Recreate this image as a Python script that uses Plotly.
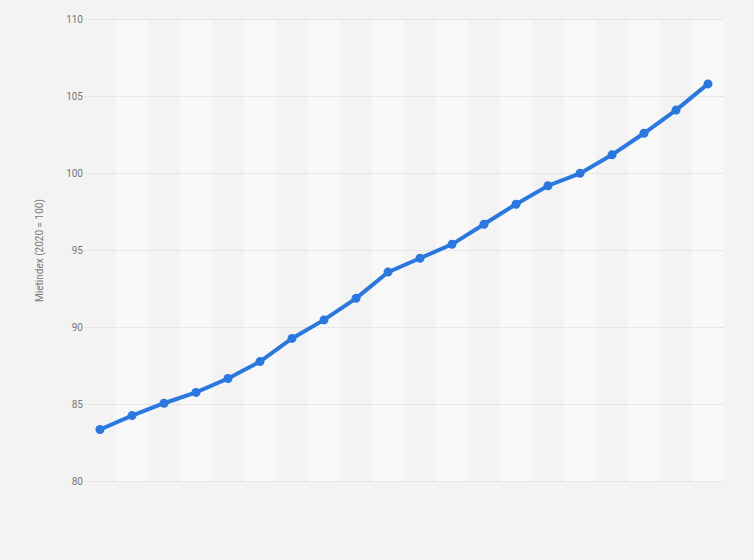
import plotly.graph_objects as go

years = [str(y) for y in range(2005, 2025)]
mietindex = [83.4, 84.3, 85.1, 85.8, 86.7, 87.8, 89.3, 90.5, 91.9, 93.6,
             94.5, 95.4, 96.7, 98.0, 99.2, 100.0, 101.2, 102.6, 104.1, 105.8]
y_ticks = [80, 85, 90, 95, 100, 105, 110]

fig = go.Figure()

shapes = []
for i in range(len(years)):
    shapes.append(dict(
        type="rect", xref="x", yref="y",
        x0=i - 0.5, x1=i + 0.5, y0=y_ticks[0], y1=y_ticks[-1],
        fillcolor="#f8f8f8" if i % 2 == 1 else "#f3f3f3",
        line=dict(width=0), layer="below",
    ))

fig.add_trace(go.Scatter(
    x=list(range(len(years))), y=mietindex,
    mode="lines+markers",
    line=dict(color="#2a78de", width=4),
    marker=dict(color="#2a78de", size=9),
    customdata=years,
    hovertemplate="%{customdata}: %{y}<extra></extra>",
))

fig.update_layout(
    width=754, height=560,
    paper_bgcolor="#f3f3f3",
    plot_bgcolor="#f3f3f3",
    margin=dict(l=84, r=30, t=16, b=75),
    showlegend=False,
    shapes=shapes,
    font=dict(family="Roboto, Arial, sans-serif", color="#777777", size=10),
    xaxis=dict(
        range=[-0.5, len(years) - 0.5],
        showticklabels=False, showgrid=False, zeroline=False,
        showline=False, ticks="", fixedrange=True,
    ),
    yaxis=dict(
        range=[79.8, 110.2],
        tickvals=y_ticks,
        ticktext=[str(v) for v in y_ticks],
        showgrid=True, gridcolor="#d6d6d6", griddash="1px,1px", gridwidth=1,
        zeroline=False, showline=False,
        ticks="", ticklen=0,
        tickfont=dict(size=10, color="#777777"),
        title=dict(text="Mietindex (2020 = 100)", font=dict(size=10, color="#777777"), standoff=20),
    ),
)

fig.write_html(
    "out.html",
    config={"displayModeBar": False},
    post_script="document.body.style.margin='0';document.body.style.background='#f3f3f3';",
)
